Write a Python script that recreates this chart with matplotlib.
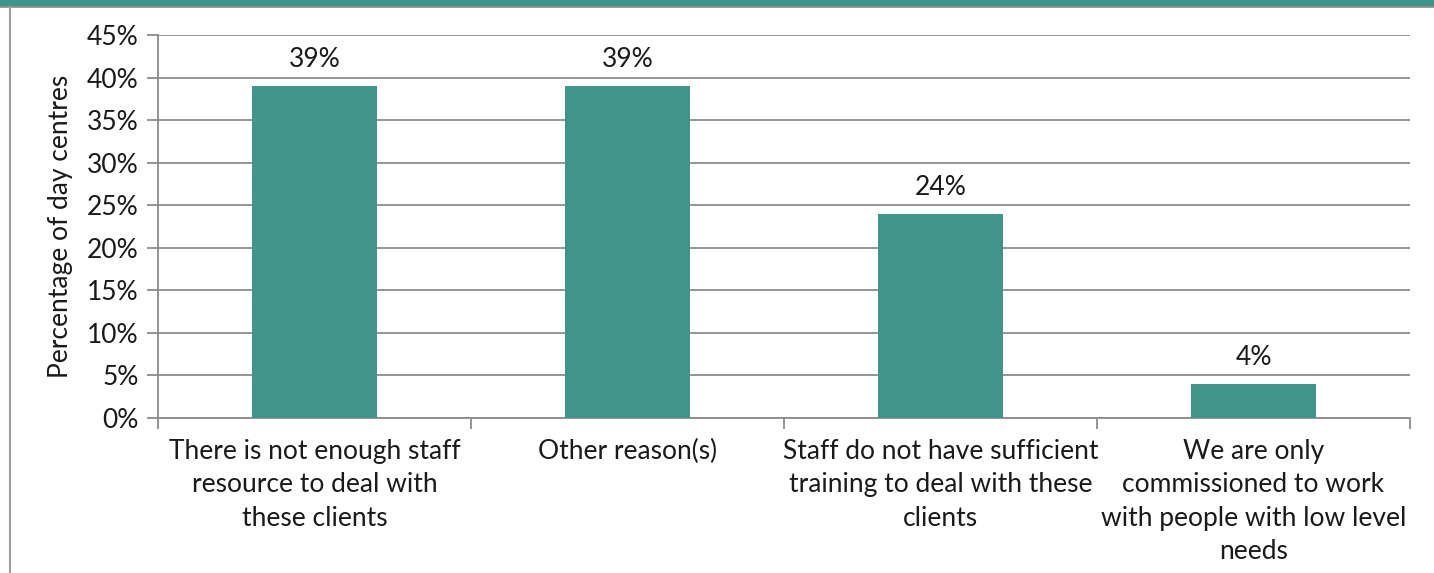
#!/usr/bin/env python3
import numpy as np
import matplotlib as mpl
mpl.use('Agg')
import matplotlib.pyplot as plt
from matplotlib.patches import Rectangle
from matplotlib.lines import Line2D

# Chart data
categories = [
    'There is not enough staff\nresource to deal with\nthese clients',
    'Other reason(s)',
    'Staff do not have sufficient\ntraining to deal with these\nclients',
    'We are only\ncommissioned to work\nwith people with low level\nneeds',
]
values = [39, 39, 24, 4]
yticks = [0, 5, 10, 15, 20, 25, 30, 35, 40, 45]

teal = '#3f958b'
grid = '#8c8c8c'
fs = 19

plt.rcParams['font.family'] = ['Lato', 'DejaVu Sans']

W, H = 1434, 573
fig = plt.figure(figsize=(W/100, H/100), dpi=100)

# Frame: banner strip on top and a thin border on the left
fig.patches.append(Rectangle((0, 1-6/H), 1, 6/H, transform=fig.transFigure,
                             color=teal, zorder=0))
fig.lines.append(Line2D([0, 1], [1-7/H, 1-7/H], transform=fig.transFigure,
                        color='#909090', lw=1.2))
fig.lines.append(Line2D([10/W, 10/W], [0, 1-7/H], transform=fig.transFigure,
                        color='#a0a0a0', lw=1.5))

x0, x1 = 158, 1410
y0, y1 = 418, 35
ax = fig.add_axes((x0/W, 1-y0/H, (x1-x0)/W, (y0-y1)/H))

x = np.arange(len(values))
bars = ax.bar(x, values, width=0.4, color=teal, zorder=3)
for xi, v in zip(x, values):
    ax.text(xi, v + 1.6, f'{v}%', ha='center', va='bottom', fontsize=fs,
            color='#1a1a1a')

ax.set_xlim(-0.5, len(values)-0.5)
ax.set_ylim(0, 45)
ax.set_yticks(yticks)
ax.set_yticklabels([f'{t}%' for t in yticks], fontsize=fs, color='#1a1a1a')
ax.yaxis.grid(True, color=grid, lw=1.3, zorder=0)
ax.set_axisbelow(True)

# Category labels centred, ticks at category boundaries
ax.set_xticks(x)
ax.set_xticklabels(categories, fontsize=fs, color='#1a1a1a', linespacing=1.42)
ax.tick_params(axis='x', length=0, pad=15)
ax.set_xticks(np.arange(-0.5, len(values), 1), minor=True)
ax.tick_params(axis='x', which='minor', length=8, width=1.3, color=grid,
               direction='out')
ax.tick_params(axis='y', length=8, width=1.3, color=grid, pad=6)

for s in ['top', 'right']:
    ax.spines[s].set_visible(False)
for s in ['left', 'bottom']:
    ax.spines[s].set_color(grid)
    ax.spines[s].set_linewidth(1.3)

ax.set_ylabel('Percentage of day centres', fontsize=fs, color='#1a1a1a',
              labelpad=10)

fig.savefig('out.png', dpi=100)
